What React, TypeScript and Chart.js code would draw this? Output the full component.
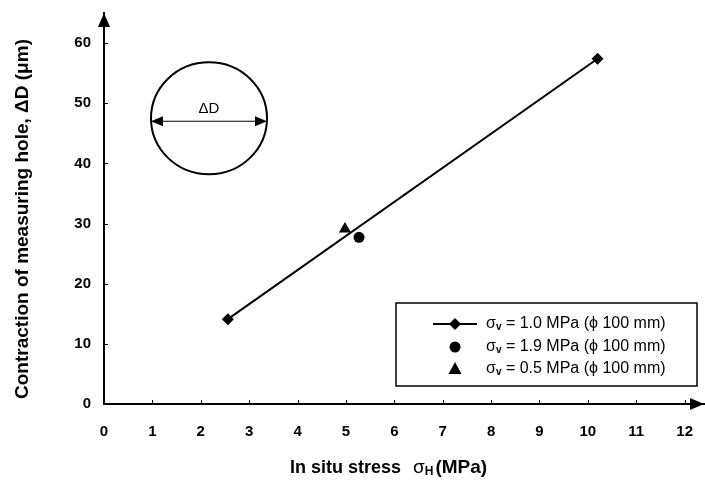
import React, { useEffect, useRef } from "react";
import { Chart, registerables } from "chart.js";

Chart.register(...registerables);

const FONT = '"Liberation Sans", Arial, Helvetica, sans-serif';

const legendValues = ["1.0", "1.9", "0.5"];
const s1X = [2.56, 10.2];
const s1Y = [14.1, 57.4];
const s2X = [5.27];
const s2Y = [27.7];
const s3X = [4.98];
const s3Y = [29.1];
const xTicks = [0, 1, 2, 3, 4, 5, 6, 7, 8, 9, 10, 11, 12];
const yTicks = [0, 10, 20, 30, 40, 50, 60];
const xMax = 12.4;
const yMax = 65;

const decorPlugin = {
  id: "decor",
  afterDraw(chart: any) {
    const ctx: CanvasRenderingContext2D = chart.ctx;
    const ca = chart.chartArea;
    const xs = chart.scales.x;
    const ys = chart.scales.y;
    ctx.save();
    ctx.fillStyle = "#000";
    ctx.strokeStyle = "#000";

    // inward tick marks
    ctx.lineWidth = 1;
    ctx.beginPath();
    xTicks.forEach((v) => {
      if (v === 0) return;
      const px = Math.round(xs.getPixelForValue(v)) + 0.5;
      ctx.moveTo(px, ca.bottom);
      ctx.lineTo(px, ca.bottom - 4);
    });
    yTicks.forEach((v) => {
      if (v === 0) return;
      const py = Math.round(ys.getPixelForValue(v)) + 0.5;
      ctx.moveTo(ca.left, py);
      ctx.lineTo(ca.left + 4, py);
    });
    ctx.stroke();

    // arrowheads
    ctx.beginPath();
    ctx.moveTo(ca.left, ca.top);
    ctx.lineTo(ca.left - 6, ca.top + 14);
    ctx.lineTo(ca.left + 6, ca.top + 14);
    ctx.closePath();
    ctx.fill();
    ctx.beginPath();
    ctx.moveTo(ca.right, ca.bottom);
    ctx.lineTo(ca.right - 14, ca.bottom - 6);
    ctx.lineTo(ca.right - 14, ca.bottom + 6);
    ctx.closePath();
    ctx.fill();

    // inset circle with ΔD
    const cx = xs.getPixelForValue(2.17);
    const cy = ys.getPixelForValue(47.5);
    ctx.lineWidth = 2;
    ctx.beginPath();
    ctx.ellipse(cx, cy, 58, 56, 0, 0, Math.PI * 2);
    ctx.stroke();
    const ay = cy + 3;
    ctx.lineWidth = 1.2;
    ctx.beginPath();
    ctx.moveTo(cx - 50, ay);
    ctx.lineTo(cx + 50, ay);
    ctx.stroke();
    ctx.beginPath();
    ctx.moveTo(cx - 58, ay);
    ctx.lineTo(cx - 46, ay - 5);
    ctx.lineTo(cx - 46, ay + 5);
    ctx.closePath();
    ctx.fill();
    ctx.beginPath();
    ctx.moveTo(cx + 58, ay);
    ctx.lineTo(cx + 46, ay - 5);
    ctx.lineTo(cx + 46, ay + 5);
    ctx.closePath();
    ctx.fill();
    ctx.font = `15px ${FONT}`;
    ctx.textAlign = "center";
    ctx.textBaseline = "middle";
    ctx.fillText("ΔD", cx, cy - 9);

    // legend
    const bw = 301;
    const bh = 83;
    const bx = ca.right - 7 - bw;
    const by = ca.bottom - 18 - bh;
    ctx.fillStyle = "#fff";
    ctx.fillRect(bx, by, bw, bh);
    ctx.fillStyle = "#000";
    ctx.lineWidth = 1.5;
    ctx.strokeRect(bx, by, bw, bh);
    const rows = [by + 21, by + 44, by + 66];
    const symX = bx + 59;
    rows.forEach((ry, i) => {
      if (i === 0) {
        ctx.lineWidth = 2;
        ctx.beginPath();
        ctx.moveTo(bx + 37, ry);
        ctx.lineTo(bx + 81, ry);
        ctx.stroke();
        ctx.beginPath();
        ctx.moveTo(symX, ry - 6);
        ctx.lineTo(symX + 6, ry);
        ctx.lineTo(symX, ry + 6);
        ctx.lineTo(symX - 6, ry);
        ctx.closePath();
        ctx.fill();
      } else if (i === 1) {
        ctx.beginPath();
        ctx.arc(symX, ry, 5.5, 0, Math.PI * 2);
        ctx.fill();
      } else {
        ctx.beginPath();
        ctx.moveTo(symX, ry - 7);
        ctx.lineTo(symX + 6.5, ry + 5);
        ctx.lineTo(symX - 6.5, ry + 5);
        ctx.closePath();
        ctx.fill();
      }
      let tx = bx + 90;
      ctx.textAlign = "left";
      ctx.textBaseline = "middle";
      ctx.font = `16px ${FONT}`;
      ctx.fillText("σ", tx, ry);
      tx += ctx.measureText("σ").width;
      ctx.font = `bold 10px ${FONT}`;
      ctx.fillText("v", tx, ry + 3);
      tx += ctx.measureText("v").width;
      ctx.font = `16px ${FONT}`;
      ctx.fillText(` = ${legendValues[i]} MPa (ϕ 100 mm)`, tx, ry);
    });

    // x axis title
    ctx.textBaseline = "middle";
    ctx.textAlign = "left";
    const tY = 468;
    let tx = 290;
    ctx.font = `bold 18px ${FONT}`;
    ctx.fillText("In situ stress", tx, tY);
    tx += ctx.measureText("In situ stress").width + 12;
    ctx.font = `19px ${FONT}`;
    ctx.fillText("σ", tx, tY);
    tx += ctx.measureText("σ").width;
    ctx.font = `bold 12px ${FONT}`;
    ctx.fillText("H", tx, tY + 4);
    tx += ctx.measureText("H").width + 2;
    ctx.font = `bold 19px ${FONT}`;
    ctx.fillText("(MPa)", tx, tY);

    // y axis title
    ctx.save();
    ctx.translate(23, 219);
    ctx.rotate(-Math.PI / 2);
    ctx.textAlign = "center";
    ctx.font = `bold 19px ${FONT}`;
    ctx.fillText("Contraction of measuring hole, ΔD (μm)", 0, 0);
    ctx.restore();

    ctx.restore();
  },
};

export default function App() {
  const ref = useRef<HTMLCanvasElement | null>(null);
  useEffect(() => {
    if (!ref.current) return;
    const chart = new Chart(ref.current, {
      type: "scatter",
      data: {
        datasets: [
          {
            label: "s1",
            data: s1X.map((x, i) => ({ x, y: s1Y[i] })),
            showLine: true,
            borderColor: "#000",
            backgroundColor: "#000",
            borderWidth: 2,
            pointStyle: "rectRot",
            pointRadius: 6,
            pointBorderWidth: 0,
          },
          {
            label: "s2",
            data: s2X.map((x, i) => ({ x, y: s2Y[i] })),
            borderColor: "#000",
            backgroundColor: "#000",
            pointStyle: "circle",
            pointRadius: 5.5,
            pointBorderWidth: 0,
          },
          {
            label: "s3",
            data: s3X.map((x, i) => ({ x, y: s3Y[i] })),
            borderColor: "#000",
            backgroundColor: "#000",
            pointStyle: "triangle",
            pointRadius: 7,
            pointBorderWidth: 0,
          },
        ],
      },
      options: {
        animation: false,
        responsive: false,
        maintainAspectRatio: false,
        layout: { autoPadding: false, padding: { top: 13, right: 1, left: 0, bottom: 0 } },
        plugins: {
          legend: { display: false },
          tooltip: { enabled: false },
        },
        scales: {
          x: {
            type: "linear",
            min: 0,
            max: xMax,
            afterFit: (s: any) => {
              s.height = 76;
              s.paddingLeft = 0;
              s.paddingRight = 0;
            },
            afterBuildTicks: (s: any) => {
              s.ticks = xTicks.map((v) => ({ value: v }));
            },
            grid: { display: false, drawTicks: false },
            border: { display: true, color: "#000", width: 2 },
            ticks: {
              padding: 19,
              color: "#000",
              font: { family: FONT, size: 15, weight: "bold" },
              maxRotation: 0,
              autoSkip: false,
            },
          },
          y: {
            type: "linear",
            min: 0,
            max: yMax,
            afterFit: (s: any) => {
              s.width = 104;
              s.paddingTop = 0;
              s.paddingBottom = 0;
            },
            afterBuildTicks: (s: any) => {
              s.ticks = yTicks.map((v) => ({ value: v }));
            },
            grid: { display: false, drawTicks: false },
            border: { display: true, color: "#000", width: 2 },
            ticks: {
              padding: 13,
              color: "#000",
              font: { family: FONT, size: 15, weight: "bold" },
              autoSkip: false,
            },
          },
        },
      },
      plugins: [decorPlugin],
    } as any);
    return () => chart.destroy();
  }, []);
  return (
    <div style={{ position: "fixed", left: 0, top: 0, width: 705, height: 480, background: "#fff" }}>
      <canvas ref={ref} width={705} height={480} style={{ width: 705, height: 480 }} />
    </div>
  );
}
